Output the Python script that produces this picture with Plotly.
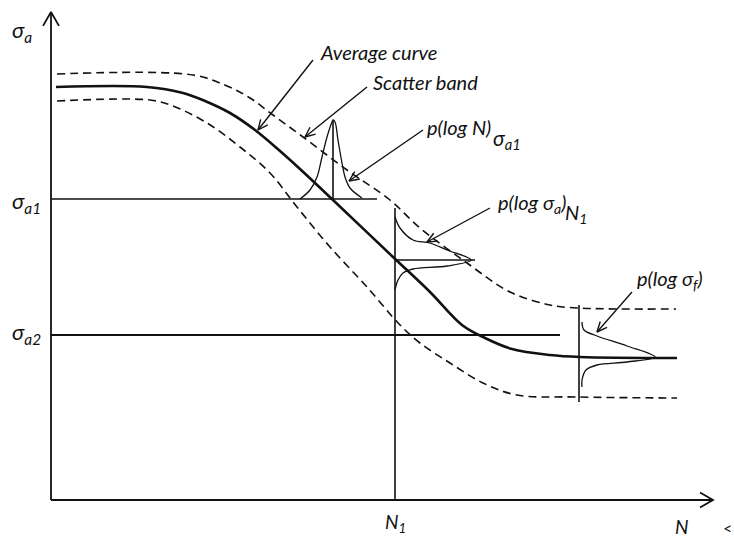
import math
import plotly.graph_objects as go

# ---- schematic data (chart units: x grows right, y grows downward on the canvas) ----
avg_x = [56, 147, 183, 205, 230, 255, 280, 300, 333, 393, 430, 462, 485, 512, 550, 580, 677]
avg_y = [87, 87, 93, 101, 113, 130, 151, 169, 200, 257, 292, 325, 338, 349, 355, 357, 358]

up_x = [57, 193, 227, 250, 273, 303, 347, 390, 420, 467, 510, 550, 577, 676]
up_y = [74, 75, 86, 98, 115, 137, 170, 200, 228, 263, 292, 305, 308, 309]

lo_x = [57, 150, 173, 207, 240, 270, 297, 330, 367, 400, 420, 450, 483, 517, 577, 677]
lo_y = [101, 100, 106, 123, 147, 173, 207, 247, 287, 325, 343, 363, 383, 395, 397, 398]

pdf1_x = [300, 310, 317, 322, 327, 332, 333, 335, 338, 342, 345, 350, 362]
pdf1_y = [199, 190, 177, 157, 137, 122, 120, 122, 140, 163, 177, 188, 198]

pdf2_x = [395, 400, 413, 430, 447, 471, 447, 413, 403, 398, 395]
pdf2_y = [217, 228, 240, 243, 250, 260, 266, 269, 273, 280, 290]

pdf3_x = [582, 584, 597, 627, 655, 627, 597, 586, 582, 582]
pdf3_y = [322, 330, 336, 346, 357, 362, 365, 370, 380, 387]

# straight reference lines: (x0, y0, x1, y1, width)
seg_lines = [
    (51, 199, 377, 199, 1.4),   # sigma_a1 level
    (51, 335, 560, 335, 2.0),   # sigma_a2 level
    (395, 208, 395, 500, 1.6),  # N1 vertical
    (333, 120, 333, 199, 1.6),  # pdf1 axis
    (395, 260, 475, 260, 1.4),  # pdf2 axis
    (579, 305, 579, 402, 1.6),  # pdf3 axis
]

axis_origin = (51, 500)
axis_top = 12
axis_right = 713

# annotation arrows: (tail_x, tail_y, tip_x, tip_y)
arrows = [
    (313, 60, 258, 130),
    (367, 87, 305, 137),
    (423, 130, 349, 181),
    (490, 208, 427, 242),
    (632, 292, 597, 332),
]

# text labels: (text, x, y, size)
labels = [
    ("Average curve", 319, 52, 20),
    ("Scatter band", 372, 82, 20),
    ("p(log N)", 426, 127, 20),
    ("σ<sub>a1</sub>", 492, 139, 21),
    ("p(log σ<sub>a</sub>)", 497, 203, 20),
    ("N<sub>1</sub>", 564, 213, 20),
    ("p(log σ<sub>f</sub>)", 636, 279, 20),
    ("σ<sub>a</sub>", 11, 31, 22),
    ("σ<sub>a1</sub>", 11, 202, 22),
    ("σ<sub>a2</sub>", 11, 333, 22),
    ("N<sub>1</sub>", 384, 523, 19),
    ("N", 674, 526, 19),
]

INK = "#111111"
fig = go.Figure()


def add_line(xs, ys, width=1.5, dash="solid", shape="linear"):
    fig.add_trace(go.Scatter(x=xs, y=ys, mode="lines",
                             line=dict(color=INK, width=width, dash=dash, shape=shape, smoothing=1.0),
                             hoverinfo="skip", showlegend=False))


def chevron(tx, ty, sx, sy, length=12, half_angle=24):
    ang = math.atan2(sy - ty, sx - tx)
    a1 = ang + math.radians(half_angle)
    a2 = ang - math.radians(half_angle)
    xs = [tx + length * math.cos(a1), tx, tx + length * math.cos(a2)]
    ys = [ty + length * math.sin(a1), ty, ty + length * math.sin(a2)]
    return xs, ys


# scatter band and average curve
add_line(up_x, up_y, 1.6, "8px,5px", "spline")
add_line(lo_x, lo_y, 1.6, "8px,5px", "spline")
add_line(avg_x, avg_y, 2.6, "solid", "spline")

# level lines and pdf axes
for x0, y0, x1, y1, w in seg_lines:
    add_line([x0, x1], [y0, y1], w)

# distributions
add_line(pdf1_x, pdf1_y, 1.3, "solid", "spline")
add_line(pdf2_x, pdf2_y, 1.3, "solid", "spline")
add_line(pdf3_x, pdf3_y, 1.3, "solid", "spline")

# main axes with open arrowheads
ox, oy = axis_origin
add_line([ox, ox], [oy, axis_top], 1.8)
add_line([ox, axis_right], [oy, oy], 1.8)
cx, cy = chevron(ox, axis_top, ox, oy, 16, 30)
add_line(cx, cy, 1.8)
cx, cy = chevron(axis_right, oy, ox, oy, 15, 30)
add_line(cx, cy, 1.8)

# pointer arrows
for sx, sy, tx, ty in arrows:
    add_line([sx, tx], [sy, ty], 1.4)
    cx, cy = chevron(tx, ty, sx, sy, 11, 24)
    add_line(cx, cy, 1.4)

for text, x, y, size in labels:
    fig.add_annotation(x=x, y=y, text=text, showarrow=False,
                       xanchor="left", yanchor="middle", borderpad=0,
                       font=dict(family="Lato, Open Sans, sans-serif", size=size,
                                 color=INK, style="italic"))

fig.add_annotation(x=722, y=527, text="<", showarrow=False, xanchor="left", yanchor="middle",
                   borderpad=0, font=dict(family="Lato, sans-serif", size=16, color=INK))

fig.update_layout(
    width=734, height=538,
    margin=dict(l=0, r=0, t=0, b=0),
    paper_bgcolor="white", plot_bgcolor="white",
    xaxis=dict(range=[0, 734], visible=False, fixedrange=True),
    yaxis=dict(range=[538, 0], visible=False, fixedrange=True),
    showlegend=False,
)

fig.write_html("out.html")
